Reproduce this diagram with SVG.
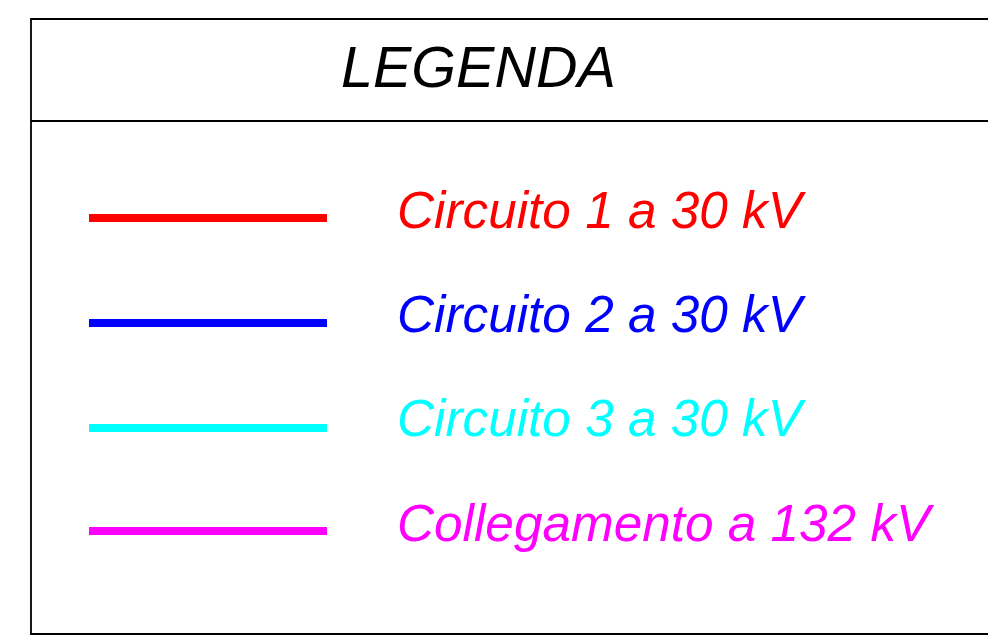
<svg xmlns="http://www.w3.org/2000/svg" width="988" height="637" viewBox="0 0 988 637">
<style>
.frame{fill:none;stroke:#000;stroke-width:1.8}
.lg{fill:none;stroke-width:8}
.t{font-family:"Liberation Sans",Arial,sans-serif;font-style:italic;font-size:51.3px}
</style>
<rect width="988" height="637" fill="#fff"/>
<g id="frame">
<path class="frame" d="M988,19 H31 V634 H988 M31,121 H988"/>
<text class="t" x="341" y="87" style="font-size:57.5px" fill="#000">LEGENDA</text>
</g>
<g id="connectors">
<line class="lg" x1="89" y1="218" x2="327" y2="218" stroke="#ff0000"/>
<line class="lg" x1="89" y1="323" x2="327" y2="323" stroke="#0000ff"/>
<line class="lg" x1="89" y1="428" x2="327" y2="428" stroke="#00ffff"/>
<line class="lg" x1="89" y1="531" x2="327" y2="531" stroke="#ff00ff"/>
</g>
<g id="item1"><text class="t" x="397" y="228" fill="#ff0000">Circuito 1 a 30 kV</text></g>
<g id="item2"><text class="t" x="397" y="332" fill="#0000ff">Circuito 2 a 30 kV</text></g>
<g id="item3"><text class="t" x="397" y="436" fill="#00ffff">Circuito 3 a 30 kV</text></g>
<g id="item4"><text class="t" x="397" y="541" fill="#ff00ff">Collegamento a 132 kV</text></g>
</svg>
